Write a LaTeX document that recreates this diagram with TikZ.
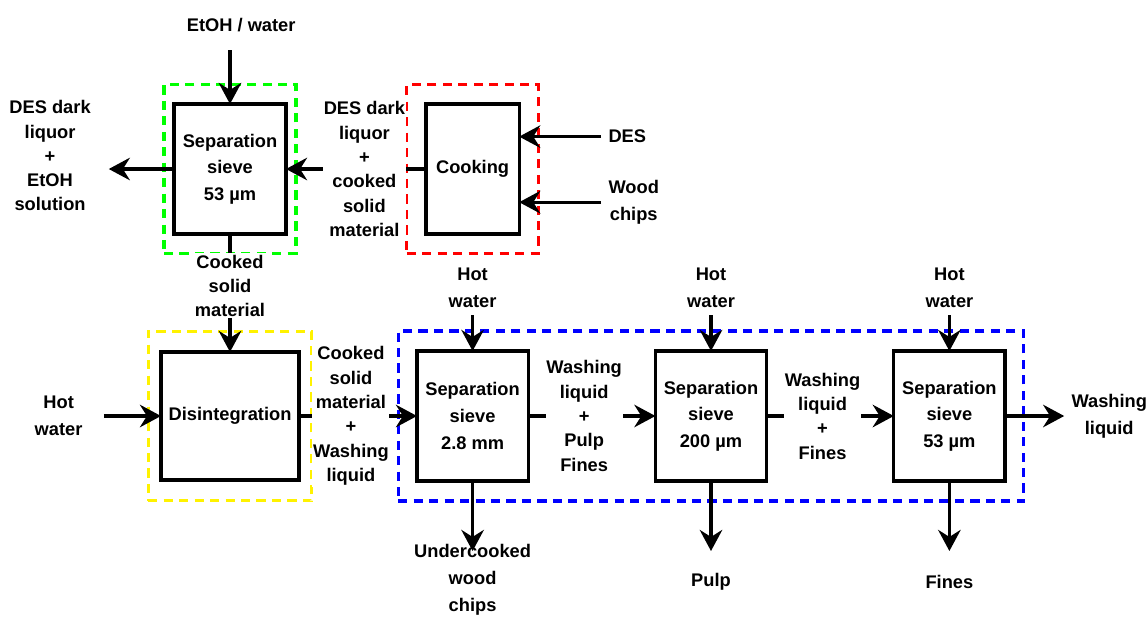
\documentclass[tikz,border=0pt]{standalone}
\usepackage{fontspec}
\setmainfont{Liberation Sans}
\usetikzlibrary{arrows.meta,positioning,fit}

\begin{document}
\begin{tikzpicture}[
    node distance=2.95cm,
    block/.style={draw, rectangle, line width=2.3pt, outer sep=0pt, minimum width=2.78cm, minimum height=3.25cm, align=center, font=\bfseries\fontsize{13}{19}\selectfont},
    io/.style={align=center, inner sep=5pt, font=\bfseries\fontsize{13}{19}\selectfont},
    midlbl/.style={pos=0.44, fill=white, align=center, inner xsep=0.5pt, inner ysep=1pt, font=\bfseries\fontsize{13}{17.3}\selectfont},
    zone/.style={draw, rectangle, line width=2.3pt, dash pattern=on 6.5pt off 4.5pt},
    arrow/.style={-{Stealth[length=15pt, width=16pt, inset=5pt]}, line width=2.3pt},
]
    \useasboundingbox (0,0) rectangle (28.65,-15.4);

    % process blocks
    \node [block, minimum width=2.8cm] (sieve0) at (5.75,-4.225) {Separation\\sieve\\53 µm};
    \node [block, minimum width=2.33cm, right=3.5cm of sieve0] (cook) {Cooking};
    \node [block, minimum width=3.45cm, minimum height=3.2cm, below=of sieve0] (disint) {Disintegration};
    \node [block, right=of disint] (sieveA) {Separation\\sieve\\2.8 mm};
    \node [block, right=3.18cm of sieveA] (sieveB) {Separation\\sieve\\200 µm};
    \node [block, right=3.18cm of sieveB] (sieveC) {Separation\\sieve\\53 µm};

    % dashed groups
    \node [zone, draw=green, inner xsep=0.25cm, inner ysep=0.48cm, fit=(sieve0)] (gzone) {};
    \node [zone, draw=red, inner sep=0.48cm, fit=(cook)] (rzone) {};
    \node [zone, draw=yellow, inner xsep=0.32cm, inner ysep=0.52cm, fit=(disint)] (yzone) {};
    \node [zone, draw=blue, inner xsep=0.47cm, inner ysep=0.5cm, fit=(sieveA)(sieveC)] (bzone) {};

    % feeds and products
    \node [io, above=1.63cm of sieve0, xshift=0.28cm] (etoh) {EtOH / water};
    \node [io, left=1.9cm of sieve0, yshift=0.33cm, font=\bfseries\fontsize{13}{17.3}\selectfont] (darkout) {DES dark\\liquor\\+\\EtOH\\solution};
    \node [io, right=2.05cm of cook, yshift=0.81cm] (des) {DES};
    \node [io, right=2.05cm of cook, yshift=-0.83cm] (wood) {Wood\\chips};
    \node [io, left=1.78cm of disint] (hw0) {Hot\\water};
    \node [io, above=0.9cm of sieveA] (hwA) {Hot\\water};
    \node [io, above=0.9cm of sieveB] (hwB) {Hot\\water};
    \node [io, above=0.9cm of sieveC] (hwC) {Hot\\water};
    \node [io, right=1.48cm of sieveC] (washout) {Washing\\liquid};
    \coordinate [below=1.75cm of sieveA] (outA);
    \coordinate [below=1.75cm of sieveB] (outB);
    \coordinate [below=1.75cm of sieveC] (outC);
    \node [io] (chips) at ([yshift=-2.47cm]sieveA.south) {Undercooked\\wood\\chips};
    \node [io] (pulp) at ([yshift=-2.525cm]sieveB.south) {Pulp};
    \node [io] (fines) at ([yshift=-2.525cm]sieveC.south) {Fines};

    % streams
    \draw [arrow, shorten <=0.28cm] (etoh.south -| sieve0.north) -- (sieve0.north);
    \draw [arrow, shorten >=0.27cm] (sieve0.west) -- (sieve0.west -| darkout.east);
    \draw [arrow] (des.west) -- (des.west -| cook.east);
    \draw [arrow] (wood.west) -- (wood.west -| cook.east);
    \draw [arrow] (cook.west) -- node [midlbl] {DES dark\\liquor\\+\\cooked\\solid\\material} (sieve0.east);
    \draw [arrow] (sieve0.south) -- node [midlbl] {Cooked\\solid\\material} (disint.north);
    \draw [arrow, shorten <=0.35cm] (hw0.east) -- (disint.west);
    \draw [arrow] (disint.east) -- node [midlbl] {Cooked\\solid\\material\\+\\Washing\\liquid} (sieveA.west);
    \draw [arrow] (sieveA.east) -- node [midlbl] {Washing\\liquid\\+\\Pulp\\Fines} (sieveB.west);
    \draw [arrow] (sieveB.east) -- node [midlbl] {Washing\\liquid\\+\\Fines} (sieveC.west);
    \draw [arrow] (hwA) -- (sieveA);
    \draw [arrow] (hwB) -- (sieveB);
    \draw [arrow] (hwC) -- (sieveC);
    \draw [arrow] (sieveA) -- (outA);
    \draw [arrow] (sieveB) -- (outB);
    \draw [arrow] (sieveC) -- (outC);
    \draw [arrow] (sieveC) -- (washout);

\end{tikzpicture}
\end{document}
